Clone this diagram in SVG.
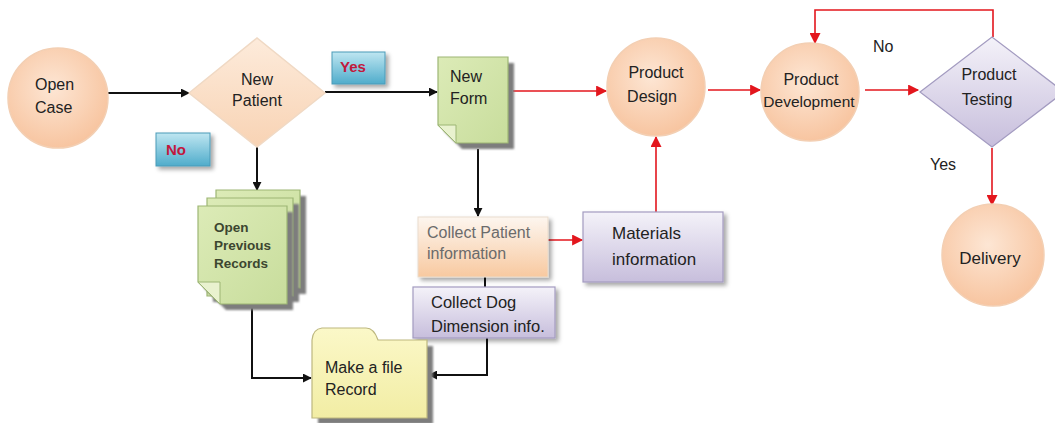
<svg xmlns="http://www.w3.org/2000/svg" width="1055" height="423" viewBox="0 0 1055 423">
  <defs>
    <radialGradient id="peachBall" cx="45%" cy="40%" r="65%">
      <stop offset="0" stop-color="#fde6d4"/>
      <stop offset="1" stop-color="#f7c29c"/>
    </radialGradient>
    <linearGradient id="peachDiamond" x1="0" y1="0" x2="0" y2="1">
      <stop offset="0" stop-color="#fdebdb"/>
      <stop offset="1" stop-color="#f8d3b4"/>
    </linearGradient>
    <linearGradient id="lavender" x1="0" y1="0" x2="0" y2="1">
      <stop offset="0" stop-color="#f4f2f9"/>
      <stop offset="1" stop-color="#c7bedc"/>
    </linearGradient>
    <linearGradient id="peachBox" x1="0" y1="0" x2="0" y2="1">
      <stop offset="0" stop-color="#fdf6ef"/>
      <stop offset="1" stop-color="#f8c9a0"/>
    </linearGradient>
    <linearGradient id="greenDoc" x1="0" y1="0" x2="1" y2="1">
      <stop offset="0" stop-color="#dcebb7"/>
      <stop offset="1" stop-color="#c8dd9c"/>
    </linearGradient>
    <linearGradient id="folderFill" x1="0" y1="0" x2="0" y2="1">
      <stop offset="0" stop-color="#fbf8c8"/>
      <stop offset="1" stop-color="#f2eda4"/>
    </linearGradient>
    <linearGradient id="tag" x1="0" y1="0" x2="0" y2="1">
      <stop offset="0" stop-color="#bfe6f1"/>
      <stop offset="1" stop-color="#4faccb"/>
    </linearGradient>
    <filter id="soft" x="-20%" y="-20%" width="150%" height="150%">
      <feDropShadow dx="3" dy="3" stdDeviation="2" flood-color="#000" flood-opacity="0.35"/>
    </filter>
    <filter id="blurShadow" x="-20%" y="-20%" width="150%" height="150%">
      <feGaussianBlur stdDeviation="1.2"/>
    </filter>
    <marker id="arrowBlack" viewBox="0 0 10 10" refX="9" refY="5" markerWidth="9" markerHeight="9" markerUnits="userSpaceOnUse" orient="auto">
      <path d="M0,0 L10,5 L0,10 Z" fill="#111"/>
    </marker>
    <marker id="arrowRed" viewBox="0 0 10 10" refX="9" refY="5" markerWidth="12" markerHeight="11" markerUnits="userSpaceOnUse" orient="auto">
      <path d="M0,0 L10,5 L0,10 Z" fill="#e3161d"/>
    </marker>
    <style>
      .txt { font-family: "Liberation Sans", Arial, sans-serif; font-size: 16px; fill: #222; }
      .mid { text-anchor: middle; }
      .grey { fill: #6b6b6b; }
      .bold { font-weight: bold; }
      .tagtxt { font-family: "Liberation Sans", Arial, sans-serif; font-size: 15px; font-weight: bold; fill: #c2183c; }
      .ball { fill: url(#peachBall); stroke: #f3cfb3; stroke-width: 1.5; }
      .lav { fill: url(#lavender); stroke: #a39bc0; stroke-width: 1.2; }
      .doc { fill: url(#greenDoc); stroke: #9db675; stroke-width: 1.2; }
      .fold { fill: #e9f2cf; stroke: #9db675; stroke-width: 1; }
      .shade { fill: #7d7d7d; filter: url(#blurShadow); }
      .blk { fill: none; stroke: #111; stroke-width: 2; }
      .red { fill: none; stroke: #e3161d; stroke-width: 1.6; }
    </style>
  </defs>

  <rect width="1055" height="423" fill="#ffffff"/>

  <!-- connectors -->
  <g id="connectors">
    <path class="blk" d="M108,93 H189" marker-end="url(#arrowBlack)"/>
    <path class="blk" d="M325,92 H437" marker-end="url(#arrowBlack)"/>
    <path class="blk" d="M257,147 V190" marker-end="url(#arrowBlack)"/>
    <path class="blk" d="M478,149 V216" marker-end="url(#arrowBlack)"/>
    <path class="blk" d="M485,277 V287"/>
    <path class="blk" d="M252,304 V378 H311" marker-end="url(#arrowBlack)"/>
    <path class="blk" d="M487,338 V375 H429" marker-end="url(#arrowBlack)"/>
    <path class="red" d="M513,91 H606" marker-end="url(#arrowRed)"/>
    <path class="red" d="M548,240 H582" marker-end="url(#arrowRed)"/>
    <path class="red" d="M656,212 V137" marker-end="url(#arrowRed)"/>
    <path class="red" d="M708,90 H760" marker-end="url(#arrowRed)"/>
    <path class="red" d="M865,90 H918" marker-end="url(#arrowRed)"/>
    <path class="red" d="M993,37 V10 H815 V43" marker-end="url(#arrowRed)"/>
    <path class="red" d="M992,148 V205" marker-end="url(#arrowRed)"/>
  </g>

  <!-- decision labels on connectors -->
  <g id="tag-yes">
    <rect x="332" y="52" width="53" height="32" fill="url(#tag)" stroke="#4a9bb8" filter="url(#soft)"/>
    <text class="tagtxt" x="340" y="72">Yes</text>
  </g>
  <g id="tag-no">
    <rect x="156" y="133" width="54" height="33" fill="url(#tag)" stroke="#4a9bb8" filter="url(#soft)"/>
    <text class="tagtxt" x="166" y="155">No</text>
  </g>
  <g id="label-no">
    <text class="txt" x="873" y="52">No</text>
  </g>
  <g id="label-yes">
    <text class="txt" x="930" y="170">Yes</text>
  </g>

  <!-- nodes -->
  <g id="open-case">
    <circle class="ball" cx="58" cy="98" r="50"/>
    <text class="txt" x="35" y="90">Open</text>
    <text class="txt" x="35" y="113">Case</text>
  </g>

  <g id="new-patient">
    <polygon points="189,93 257,38 325,93 257,147" fill="url(#peachDiamond)" stroke="#f0d9c4" stroke-width="1.5"/>
    <text class="txt mid" x="257" y="85">New</text>
    <text class="txt mid" x="257" y="106">Patient</text>
  </g>

  <g id="new-form">
    <path class="shade" d="M444,63 H514 V149 H462 L444,131 Z"/>
    <path class="doc" d="M438,57 H508 V143 H456 L438,125 Z"/>
    <path class="fold" d="M438,125 H456 V143 Z"/>
    <text class="txt" x="450" y="82">New</text>
    <text class="txt" x="450" y="104">Form</text>
  </g>

  <g id="open-previous-records">
    <path class="shade" d="M222,196 H306 V294 H222 Z"/>
    <path class="doc" d="M216,190 H300 V288 H216 Z"/>
    <path class="shade" d="M213,204 H299 V302 H213 Z"/>
    <path class="doc" d="M207,198 H293 V296 H207 Z"/>
    <path class="shade" d="M204,212 H293 V310 H226 L204,288 Z"/>
    <path class="doc" d="M198,206 H287 V304 H220 L198,282 Z"/>
    <path class="fold" d="M198,282 H220 V304 Z"/>
    <text class="txt bold" x="214" y="232" style="font-size:13.5px;fill:#3c4630">Open</text>
    <text class="txt bold" x="214" y="250" style="font-size:13.5px;fill:#3c4630">Previous</text>
    <text class="txt bold" x="214" y="268" style="font-size:13.5px;fill:#3c4630">Records</text>
  </g>

  <g id="collect-patient">
    <rect x="418" y="217" width="130" height="60" fill="url(#peachBox)" stroke="#e9dccd" filter="url(#soft)"/>
    <text class="txt grey" x="427" y="238">Collect Patient</text>
    <text class="txt grey" x="427" y="259">information</text>
  </g>

  <g id="collect-dog">
    <rect class="lav" x="413" y="287" width="142" height="51" filter="url(#soft)"/>
    <text class="txt" x="431" y="308" style="font-size:16.5px">Collect Dog</text>
    <text class="txt" x="431" y="332" style="font-size:16.5px">Dimension info.</text>
  </g>

  <g id="make-file-record">
    <path class="shade" d="M318,346 H433 V424 H318 Z"/>
    <path d="M312,340 Q313,329 322,328 H366 Q374,328 378,340 H427 V418 H312 Z" fill="url(#folderFill)" stroke="#bdb77f" stroke-width="1.2"/>
    <text class="txt" x="325" y="373">Make a file</text>
    <text class="txt" x="325" y="395">Record</text>
  </g>

  <g id="materials-information">
    <rect class="lav" x="583" y="212" width="140" height="70" filter="url(#soft)"/>
    <text class="txt" x="612" y="239" style="font-size:17px">Materials</text>
    <text class="txt" x="612" y="265" style="font-size:17px">information</text>
  </g>

  <g id="product-design">
    <circle class="ball" cx="656" cy="87" r="49"/>
    <text class="txt mid" x="656" y="78">Product</text>
    <text class="txt mid" x="652" y="102">Design</text>
  </g>

  <g id="product-development">
    <circle class="ball" cx="810" cy="92" r="49"/>
    <text class="txt mid" x="811" y="85">Product</text>
    <text class="txt mid" x="809" y="107" style="font-size:15.5px">Development</text>
  </g>

  <g id="product-testing">
    <polygon class="lav" points="920,92 992,37 1064,92 992,147"/>
    <text class="txt mid" x="989" y="80">Product</text>
    <text class="txt mid" x="987" y="105">Testing</text>
  </g>

  <g id="delivery">
    <circle class="ball" cx="993" cy="255" r="51"/>
    <text class="txt mid" x="990" y="264" style="font-size:17px">Delivery</text>
  </g>
</svg>
